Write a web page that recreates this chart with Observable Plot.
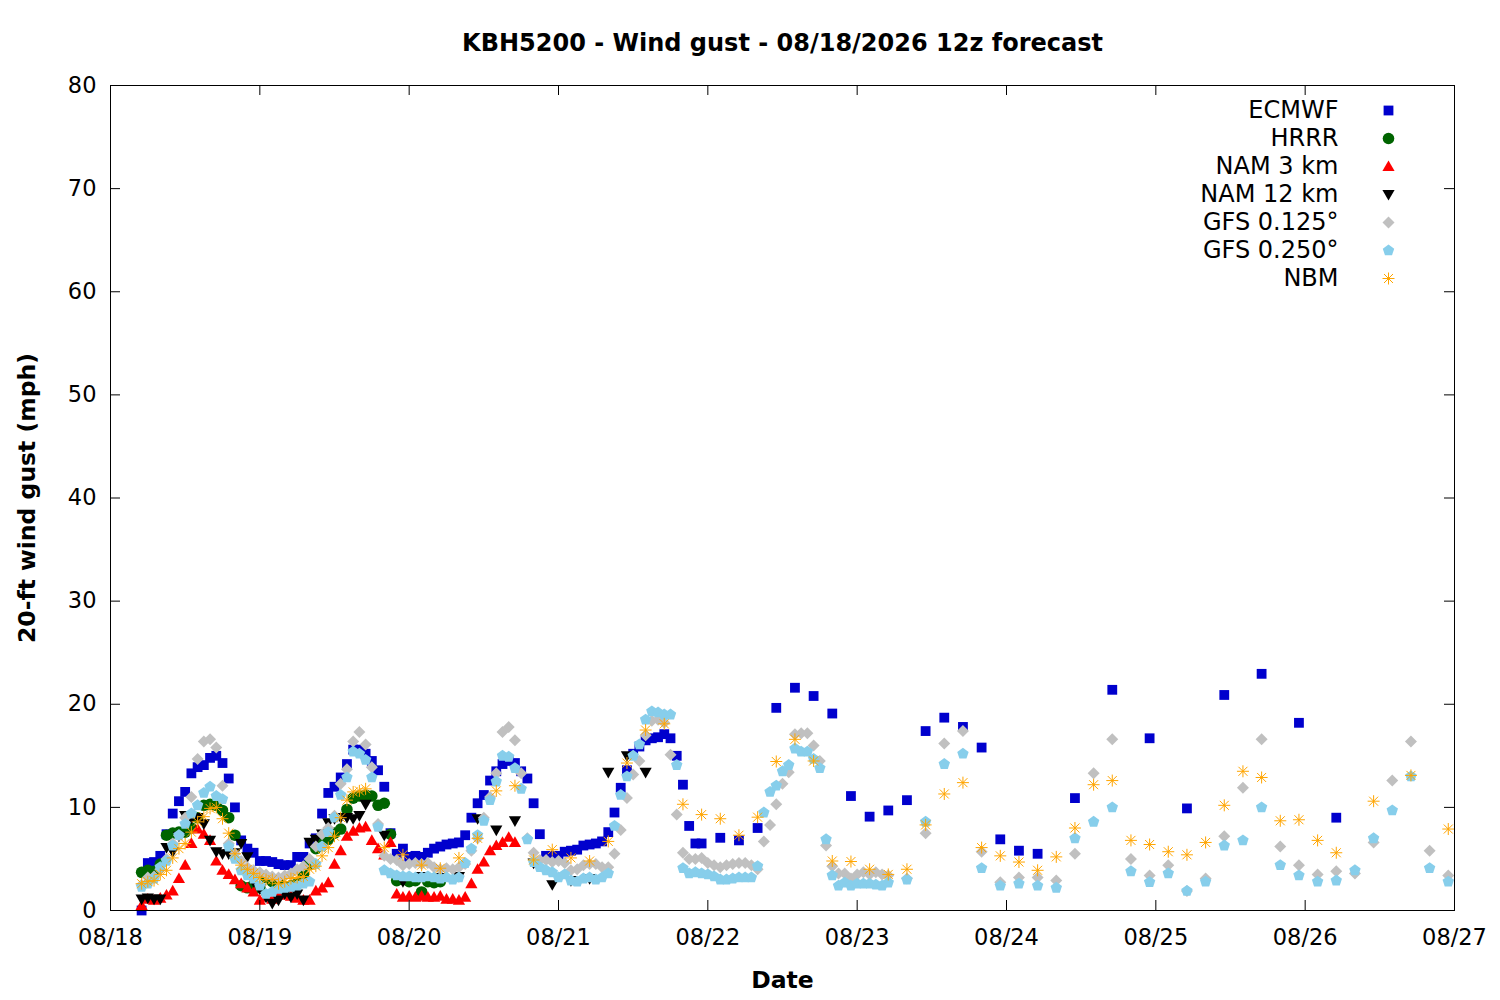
<!DOCTYPE html>
<html><head><meta charset="utf-8">
<script src="https://cdn.jsdelivr.net/npm/d3@7"></script>
<script src="https://cdn.jsdelivr.net/npm/@observablehq/plot@0.6"></script>
<style>html,body{margin:0;padding:0;background:#fff;overflow:hidden}</style>
</head><body><div id="chart"></div>
<script>
// ---------- data (hours after 08/18 00:00 local, gust in mph) ----------
const titleText = "KBH5200 - Wind gust - 08/18/2026 12z forecast";
const yLabelText = "20-ft wind gust (mph)";
const xLabelText = "Date";
const xTickDays = ["2026-08-18","2026-08-19","2026-08-20","2026-08-21","2026-08-22","2026-08-23","2026-08-24","2026-08-25","2026-08-26","2026-08-27"];
const xTickLabels = ["08/18","08/19","08/20","08/21","08/22","08/23","08/24","08/25","08/26","08/27"];
const yTicks = [0,10,20,30,40,50,60,70,80];
const modelNames = ["ECMWF","HRRR","NAM 3 km","NAM 12 km","GFS 0.125°","GFS 0.250°","NBM"];

const span = (a, b, step) => d3.range(a, b + 1, step);

const ecmwfHours = [...span(5,95,1), ...span(98,149,3), ...span(155,197,6)];
const ecmwf = [
  0,4.6,4.7,5.3,7.4,9.4,10.6,11.5,13.3,13.9,
  14.1,14.8,15.0,14.3,12.8,10.0,6.8,6.0,5.6,4.8,
  4.8,4.7,4.5,4.4,4.4,5.2,5.2,6.5,7.0,9.4,
  11.4,12.0,12.9,14.2,15.6,15.6,15.2,14.5,13.6,12.0,
  7.5,5.5,6.0,5.2,5.3,5.2,5.6,6.0,6.2,6.4,
  6.5,6.6,7.3,9.0,10.4,11.2,12.6,13.5,14.2,14.5,
  14.3,13.5,12.8,10.4,7.4,5.3,5.3,5.3,5.7,5.8,
  5.9,6.3,6.4,6.5,6.7,7.6,9.5,11.9,13.6,15.2,
  15.9,16.5,16.7,16.8,17.1,16.7,15.0,12.2,8.2,6.5,
  6.5,
  7.05,6.8,8.0,19.65,21.6,20.8,19.1,11.1,9.1,9.7,10.7,17.4,18.7,17.8,15.8,6.9,5.8,5.5,
  10.9,21.4,16.7,9.9,20.9,22.95,18.2,9.0
];

const hrrrHours = span(5,53,1);
const hrrr = [
  3.7,3.9,3.8,4.5,7.3,7.5,7.6,7.6,8.0,9.0,
  10.2,10.3,10.2,9.7,9.0,7.3,2.4,2.2,2.5,2.2,
  3.2,2.8,2.9,2.3,2.4,2.6,3.5,4.5,6.0,6.6,
  6.9,7.5,7.9,9.8,10.9,11.1,11.2,11.1,10.2,10.4,
  7.4,2.9,3.0,2.8,2.9,1.8,2.8,2.7,2.8
];

const nam3Hours = span(5,65,1);
const nam3 = [
  0.5,1.1,1.0,1.2,1.5,1.9,3.1,4.4,6.5,7.9,
  7.4,6.8,4.8,3.9,3.5,3.0,2.6,2.2,1.8,1.0,
  1.3,1.1,1.5,1.5,1.4,1.2,1.0,1.0,1.9,2.2,
  2.7,4.5,5.8,7.2,7.7,8.0,8.1,6.8,6.0,5.4,
  6.6,1.6,1.3,1.4,1.3,1.4,1.3,1.3,1.4,1.1,
  1.1,1.0,1.3,2.6,4.0,4.7,5.8,6.3,6.6,7.1,
  6.6
];

const nam12Hours = [...span(5,41,1), ...span(44,86,3)];
const nam12 = [
  1.1,1.2,1.1,1.1,6.1,5.7,7.2,9.2,8.9,9.0,
  8.4,6.8,5.7,5.5,5.5,5.6,6.5,5.2,2.8,2.1,
  1.3,0.7,1.0,1.6,1.3,1.6,1.0,6.6,6.9,7.4,
  8.5,8.9,9.0,9.0,8.9,9.2,10.3,
  7.3,2.8,3.3,3.2,3.3,8.9,7.8,8.7,4.6,2.5,2.9,3.1,13.4,15.0,13.4
];

const gfs125Hours = [...span(5,125,1), ...span(128,215,3)];
const gfs125 = [
  2.5,3.2,3.3,4.0,5.0,6.5,7.3,9.0,11.0,14.7,
  16.4,16.6,15.8,12.1,6.5,5.5,4.8,4.2,3.9,3.7,
  3.5,3.3,3.2,3.4,3.6,4.0,4.3,5.0,6.2,7.4,
  8.0,9.2,12.3,13.7,16.4,17.3,16.1,13.9,8.4,5.3,
  5.0,4.9,4.4,4.5,4.6,4.5,4.6,4.2,4.0,4.1,
  4.0,4.2,4.5,5.8,7.0,9.0,11.0,13.3,17.3,17.8,
  16.5,13.3,7.0,5.6,4.9,4.9,4.7,4.8,4.6,3.9,
  4.0,4.4,4.5,4.5,4.2,4.2,5.5,7.8,10.9,13.2,
  14.5,17.0,18.4,18.5,18.2,15.1,9.3,5.6,5.0,5.0,
  5.1,4.6,4.4,4.2,4.4,4.5,4.6,4.6,4.4,4.0,
  6.7,8.3,10.3,12.3,13.4,17.1,17.2,17.2,16.0,14.5,
  6.3,4.3,3.6,3.6,3.1,3.5,3.7,3.5,3.7,3.5,
  3.4,
  3.1,7.5,16.2,17.4,5.7,2.75,3.2,3.2,2.9,5.5,13.3,16.6,5.0,3.4,4.4,
  1.9,3.1,7.2,11.9,16.6,6.2,4.4,3.5,3.8,3.6,6.6,12.6,16.4,5.8,3.4
];

const gfs250Hours = [...span(5,125,1), ...span(128,215,3)];
const gfs250 = [
  2.3,2.6,3.1,4.2,4.8,6.3,7.3,8.4,9.4,10.2,
  11.4,12.0,11.1,10.8,6.2,5.0,3.9,3.4,3.1,2.4,
  1.6,1.8,2.1,2.2,2.3,2.4,2.6,2.8,4.5,6.2,
  7.6,9.0,11.2,12.9,15.4,15.2,14.6,12.9,8.1,3.9,
  3.6,3.4,3.3,3.3,3.2,3.2,3.3,3.2,3.1,3.2,
  3.0,3.2,4.6,6.0,7.3,8.7,10.7,12.5,15.0,14.9,
  13.8,11.8,6.9,4.7,4.2,3.9,3.7,3.2,3.5,2.9,
  2.8,3.1,3.2,3.0,3.2,3.6,8.2,11.2,13.0,15.0,
  16.1,18.5,19.3,19.2,19.0,19.0,14.1,4.1,3.6,3.7,
  3.6,3.5,3.3,3.0,3.0,3.1,3.2,3.2,3.2,4.3,
  9.5,11.5,12.1,13.5,14.1,15.7,15.4,15.4,14.7,13.8,
  6.9,3.4,2.4,2.7,2.4,2.6,2.6,2.6,2.5,2.4,
  2.7,
  3.0,8.6,14.2,15.2,4.1,2.4,2.6,2.4,2.2,7.0,8.6,10.0,3.8,2.75,3.6,
  1.9,2.8,6.3,6.8,10.0,4.4,3.4,2.8,2.9,3.9,7.0,9.7,13.0,4.1,2.8
];

const nbmHours = [...span(5,41,1), ...span(44,197,3), ...span(203,215,6)];
const nbm = [
  2.6,2.8,2.9,3.5,3.9,5.1,6.0,6.5,7.6,8.6,
  9.1,9.9,10.0,8.9,7.5,5.5,4.4,4.0,3.6,3.2,
  3.0,3.0,2.6,2.8,3.1,3.2,3.3,4.0,4.3,5.3,
  6.1,7.2,9.0,10.7,11.5,11.6,11.8,
  6.1,5.4,4.4,4.1,5.1,7.0,11.6,12.1,4.9,5.9,
  5.1,4.8,6.7,14.3,17.5,18.1,10.3,9.3,8.9,7.3,
  9.05,14.45,16.6,14.5,4.8,4.75,4.0,3.5,4.0,8.3,
  11.3,12.4,6.1,5.3,4.7,3.9,5.2,8.0,12.2,12.6,
  6.8,6.4,5.7,5.4,6.6,10.2,13.5,12.9,8.7,8.8,
  6.8,5.6,
  10.6,13.1,7.9
];

// ---------- helpers ----------
const base = Date.UTC(2026, 7, 18);
const toDate = h => new Date(base + h * 3600000);
const rows = (hours, values) => hours.map((h, i) => ({date: toDate(h), gust: values[i]}));
const xTicks = xTickDays.map(s => new Date(s + "T00:00:00Z"));

const rad = size => Math.sqrt(size / Math.PI);
const symSquare = {draw(c, s){ const r = rad(s); c.rect(-r, -r, 2*r, 2*r); }};
const symTriUp = {draw(c, s){ const r = rad(s); c.moveTo(0, -r); c.lineTo(r, 0.75*r); c.lineTo(-r, 0.75*r); c.closePath(); }};
const symTriDown = {draw(c, s){ const r = rad(s); c.moveTo(0, r); c.lineTo(r, -0.75*r); c.lineTo(-r, -0.75*r); c.closePath(); }};
const symDiamond = {draw(c, s){ const r = rad(s); c.moveTo(0, -r); c.lineTo(r, 0); c.lineTo(0, r); c.lineTo(-r, 0); c.closePath(); }};
const symPentagon = {draw(c, s){ const r = rad(s); for (let k = 0; k < 5; k++){ const a = -Math.PI/2 + k*2*Math.PI/5; const px = r*Math.cos(a), py = r*Math.sin(a); if (k === 0) c.moveTo(px, py); else c.lineTo(px, py);} c.closePath(); }};
const symStar = {draw(c, s){ const r = rad(s); const d = r*0.75; c.moveTo(-r,0); c.lineTo(r,0); c.moveTo(0,-r); c.lineTo(0,r); c.moveTo(-d,-d); c.lineTo(d,d); c.moveTo(-d,d); c.lineTo(d,-d); }};

const styles = [
  {data: rows(ecmwfHours, ecmwf), symbol: symSquare, r: 4.9, fill: "#0000CD", stroke: "none"},
  {data: rows(hrrrHours, hrrr), symbol: "circle", r: 5.8, fill: "#006400", stroke: "none"},
  {data: rows(nam3Hours, nam3), symbol: symTriUp, r: 6.1, fill: "#FF0000", stroke: "none"},
  {data: rows(nam12Hours, nam12), symbol: symTriDown, r: 6.1, fill: "#000000", stroke: "none"},
  {data: rows(gfs125Hours, gfs125), symbol: symDiamond, r: 6.0, fill: "#C0C0C0", stroke: "none"},
  {data: rows(gfs250Hours, gfs250), symbol: symPentagon, r: 6.0, fill: "#87CEEB", stroke: "none"},
  {data: rows(nbmHours, nbm), symbol: symStar, r: 6.0, fill: "none", stroke: "#FFA500"}
];

const marks = [];
styles.forEach(st => {
  marks.push(Plot.dot(st.data, {x: "date", y: "gust", symbol: st.symbol, r: st.r, fill: st.fill, stroke: st.stroke, strokeWidth: 1}));
});
// legend
styles.forEach((st, i) => {
  marks.push(Plot.text([modelNames[i]], {text: d => d, frameAnchor: "top-right", dx: -116, dy: 25 + 28*i, textAnchor: "end", lineAnchor: "middle", fontSize: 24, fill: "black"}));
  marks.push(Plot.dot([modelNames[i]], {frameAnchor: "top-right", dx: -66, dy: 25 + 28*i, symbol: st.symbol, r: st.r, fill: st.fill, stroke: st.stroke, strokeWidth: 1}));
});
// frame and inward ticks
marks.push(Plot.frame({stroke: "black", strokeWidth: 1}));
marks.push(Plot.ruleX(xTicks, {x: d => d, insetTop: 815, stroke: "black"}));
marks.push(Plot.ruleX(xTicks, {x: d => d, insetBottom: 815, stroke: "black"}));
marks.push(Plot.ruleY(yTicks, {y: d => d, insetRight: 1334, stroke: "black"}));
marks.push(Plot.ruleY(yTicks, {y: d => d, insetLeft: 1334, stroke: "black"}));
// axes labels
marks.push(Plot.axisX({ticks: xTicks, tickSize: 0, tickPadding: 19, tickFormat: d => xTickLabels[xTicks.findIndex(t => +t === +d)], label: null, fontSize: 22.5}));
marks.push(Plot.axisY({ticks: yTicks, tickSize: 0, tickPadding: 14, label: null, fontSize: 22.5}));
marks.push(Plot.text([titleText], {text: d => d, frameAnchor: "top", dy: -42, fontSize: 24, fontWeight: "bold", textAnchor: "middle", lineAnchor: "middle"}));
marks.push(Plot.text([yLabelText], {text: d => d, frameAnchor: "left", dx: -83, rotate: -90, fontSize: 23.5, fontWeight: "bold", textAnchor: "middle", lineAnchor: "middle"}));
marks.push(Plot.text([xLabelText], {text: d => d, frameAnchor: "bottom", dy: 70, fontSize: 23.5, fontWeight: "bold", textAnchor: "middle", lineAnchor: "middle"}));

const chart = Plot.plot({
  width: 1500,
  height: 1000,
  marginLeft: 110,
  marginRight: 46,
  marginTop: 85,
  marginBottom: 90,
  style: {fontFamily: "DejaVu Sans", fontSize: "22.5px", color: "black", background: "white", overflow: "visible"},
  x: {type: "utc", domain: [xTicks[0], xTicks[xTicks.length - 1]]},
  y: {type: "linear", domain: [0, 80]},
  marks
});
document.getElementById("chart").appendChild(chart);
</script>
</body></html>
